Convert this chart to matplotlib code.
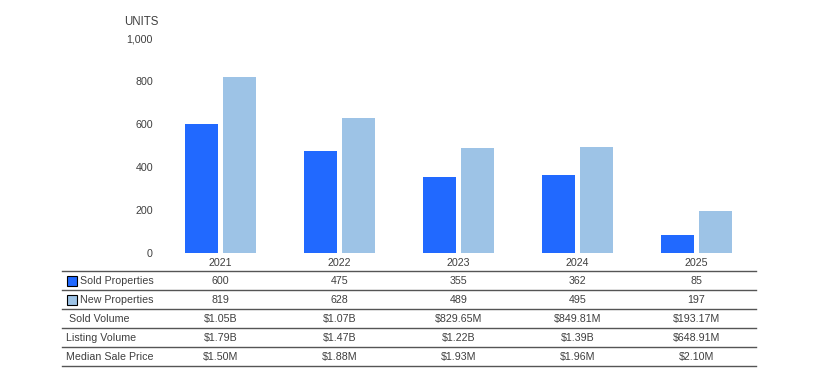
import matplotlib
matplotlib.use("Agg")
import matplotlib.pyplot as plt
from matplotlib.transforms import blended_transform_factory
from matplotlib.patches import Rectangle
from matplotlib.ticker import FuncFormatter

plt.rcParams['font.family'] = ['Liberation Sans', 'DejaVu Sans']

years = ["2021", "2022", "2023", "2024", "2025"]
sold_properties = [600, 475, 355, 362, 85]
new_properties = [819, 628, 489, 495, 197]
sold_volume = ["$1.05B", "$1.07B", "$829.65M", "$849.81M", "$193.17M"]
listing_volume = ["$1.79B", "$1.47B", "$1.22B", "$1.39B", "$648.91M"]
median_sale_price = ["$1.50M", "$1.88M", "$1.93M", "$1.96M", "$2.10M"]
y_ticks = [0, 200, 400, 600, 800, 1000]

SOLD_C = "#2169FF"
NEW_C = "#9DC3E6"
TXT = "#3f3f3f"
FS = 7.7

W, H = 814, 384
fig = plt.figure(figsize=(W / 100, H / 100), dpi=100)

# main chart axes (pixel layout)
x0, x1 = 161, 756
y0, y1 = 253, 38
ax = fig.add_axes([x0 / W, (H - y0) / H, (x1 - x0) / W, (y0 - y1) / H])
xs = list(range(len(years)))
bw = 33 / 119
off = 19 / 119
ax.bar([x - off for x in xs], sold_properties, width=bw, color=SOLD_C)
ax.bar([x + off for x in xs], new_properties, width=bw, color=NEW_C)
ax.set_xlim(-0.5, len(years) - 0.5)
ax.set_ylim(0, 1000)
ax.set_yticks(y_ticks)
ax.yaxis.set_major_formatter(FuncFormatter(lambda v, p: f"{int(v):,}"))
ax.set_xticks(xs)
ax.set_xticklabels(years)
ax.tick_params(axis='both', length=0, labelsize=FS, labelcolor=TXT)
ax.tick_params(axis='y', pad=5.8)
ax.tick_params(axis='x', pad=3.5)
for s in ax.spines.values():
    s.set_visible(False)
fig.text(141 / W, (H - 22) / H, "UNITS", ha='center', va='center', fontsize=FS + 0.6, color=TXT)

# overlay axes for the table, in pixel coordinates
tab = fig.add_axes([0, 0, 1, 1])
tab.set_xlim(0, W)
tab.set_ylim(H, 0)
tab.axis('off')
tr = blended_transform_factory(ax.transData, tab.transData)

row_top = 271
row_h = 19
rows = [
    ("Sold Properties", [str(v) for v in sold_properties], SOLD_C, 80),
    ("New Properties", [str(v) for v in new_properties], NEW_C, 80),
    ("Sold Volume", sold_volume, None, 69),
    ("Listing Volume", listing_volume, None, 66),
    ("Median Sale Price", median_sale_price, None, 66),
]
tab.plot([62, x1], [row_top, row_top], color="#555555", lw=1.0)
for i, (label, vals, col, lx) in enumerate(rows):
    yc = row_top + row_h * i + row_h / 2 + 0.5
    if col is not None:
        tab.add_patch(Rectangle((67, yc - 5), 10, 10, facecolor=col, edgecolor="black", lw=0.8))
    tab.text(lx, yc, label, ha='left', va='center', fontsize=FS, color=TXT)
    for x, v in zip(xs, vals):
        tab.text(x, yc, v, ha='center', va='center', fontsize=FS, color=TXT, transform=tr)
    yl = row_top + row_h * (i + 1)
    tab.plot([62, x1], [yl, yl], color="#555555", lw=1.0)

fig.savefig("out.png", dpi=100)
